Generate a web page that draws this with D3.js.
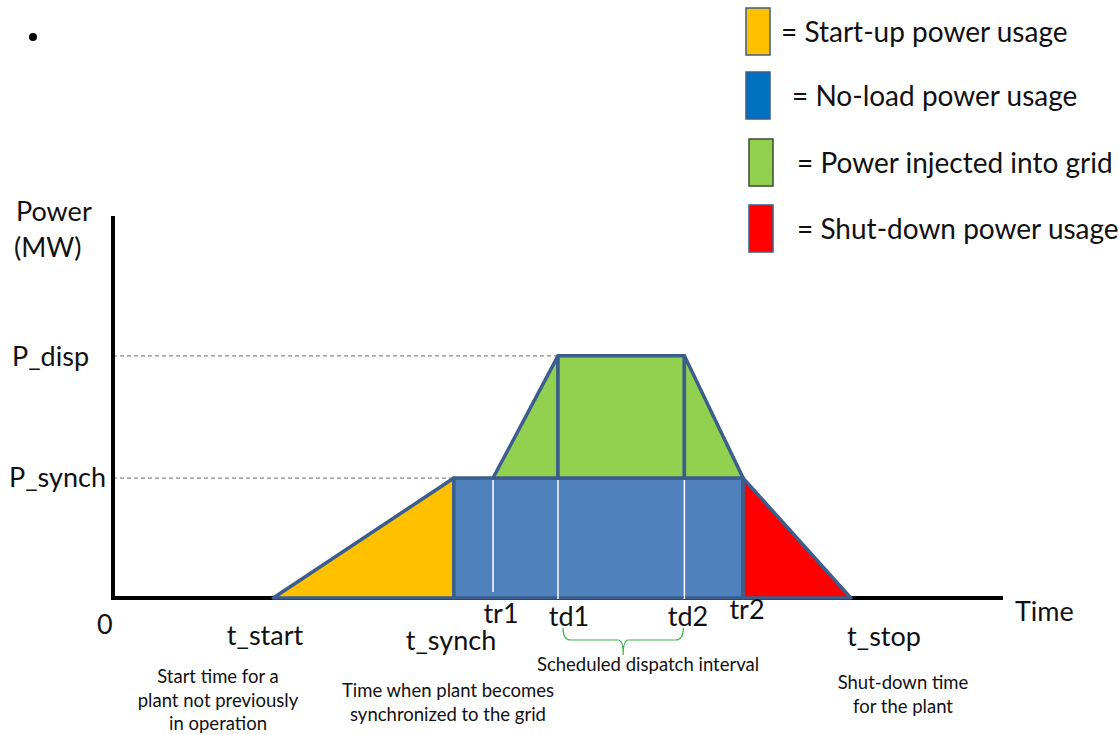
<!DOCTYPE html>
<html>
<head>
<meta charset="utf-8">
<script src="https://cdn.jsdelivr.net/npm/d3@7"></script>
<style>
  body { margin: 0; background: #fff; }
  svg { display: block; }
  text { font-family: Lato, "Open Sans", sans-serif; fill: #111; }
</style>
</head>
<body>
<div id="chart"></div>
<script>
// time points (relative units on the time axis, axis runs 0..100)
var timeNames  = ["t_start", "t_synch", "tr1", "td1", "td2", "tr2", "t_stop"];
var timeValues = [18.0, 38.3, 42.7, 50.0, 64.2, 70.8, 82.9];
// power levels (relative units, axis runs 0..100)
var powerNames  = ["P_synch", "P_disp"];
var powerValues = [31.4, 63.4];

// legend
var legendLabels = ["= Start-up power usage", "= No-load power usage",
                    "= Power injected into grid", "= Shut-down power usage"];
var legendColors = ["#FFC000", "#0070C0", "#92D050", "#FF0000"];

var t = {}; timeNames.forEach(function(n, i) { t[n] = timeValues[i]; });
var p = {}; powerNames.forEach(function(n, i) { p[n] = powerValues[i]; });

var W = 1119, H = 735;
var svg = d3.select("#chart").append("svg")
  .attr("width", W).attr("height", H);

var x = d3.scaleLinear().domain([0, 100]).range([113, 1003]);
var y = d3.scaleLinear().domain([0, 100]).range([598, 216]);

var stroke = "#3B5E8C";
var big = "27px", small = "18.5px";
var line = d3.line().x(function(d) { return x(d[0]); }).y(function(d) { return y(d[1]); });

// dashed guide lines
svg.append("line")
  .attr("x1", x(0)).attr("x2", x(t.td1))
  .attr("y1", y(p.P_disp)).attr("y2", y(p.P_disp))
  .attr("stroke", "#888").attr("stroke-width", 1.3).attr("stroke-dasharray", "4,3");
svg.append("line")
  .attr("x1", x(0)).attr("x2", x(t.t_synch))
  .attr("y1", y(p.P_synch)).attr("y2", y(p.P_synch))
  .attr("stroke", "#888").attr("stroke-width", 1.3).attr("stroke-dasharray", "4,3");

// axes
svg.append("line")
  .attr("x1", x(0)).attr("x2", x(0)).attr("y1", y(100)).attr("y2", y(0) + 2)
  .attr("stroke", "#000").attr("stroke-width", 4);
svg.append("line")
  .attr("x1", x(0) - 2).attr("x2", x(100)).attr("y1", y(0)).attr("y2", y(0))
  .attr("stroke", "#000").attr("stroke-width", 4);

// areas
var shapes = [
  { fill: "#FFC000", pts: [[t.t_start, 0], [t.t_synch, p.P_synch], [t.t_synch, 0]] },
  { fill: "#4F81BD", pts: [[t.t_synch, 0], [t.t_synch, p.P_synch], [t.tr2, p.P_synch], [t.tr2, 0]] },
  { fill: "#92D050", pts: [[t.tr1, p.P_synch], [t.td1, p.P_disp], [t.td1, p.P_synch]] },
  { fill: "#92D050", pts: [[t.td1, p.P_synch], [t.td1, p.P_disp], [t.td2, p.P_disp], [t.td2, p.P_synch]] },
  { fill: "#92D050", pts: [[t.td2, p.P_synch], [t.td2, p.P_disp], [t.tr2, p.P_synch]] },
  { fill: "#FF0000", pts: [[t.tr2, 0], [t.tr2, p.P_synch], [t.t_stop, 0]] }
];
svg.selectAll(".area")
  .data(shapes)
  .enter()
  .append("path")
  .attr("class", "area")
  .attr("d", function(d) { return line(d.pts) + "Z"; })
  .attr("fill", function(d) { return d.fill; })
  .attr("stroke", stroke)
  .attr("stroke-width", 3.5)
  .attr("stroke-linejoin", "round");

// white markers inside the no-load block
svg.selectAll(".marker")
  .data(["tr1", "td1", "td2"])
  .enter()
  .append("line")
  .attr("class", "marker")
  .attr("x1", function(d) { return x(t[d]); })
  .attr("x2", function(d) { return x(t[d]); })
  .attr("y1", y(p.P_synch) + 2)
  .attr("y2", function(d) { return d === "tr1" ? y(0) - 6 : y(0) + 1; })
  .attr("stroke", "#fff").attr("stroke-width", 1.5);

// y labels
svg.append("text").attr("x", 16).attr("y", 221).style("font-size", big).text("Power");
svg.append("text").attr("x", 14).attr("y", 257).style("font-size", big).text("(MW)");
svg.append("text").attr("x", 12).attr("y", y(p.P_disp) + 10).style("font-size", big).text("P_disp");
svg.append("text").attr("x", 9).attr("y", y(p.P_synch) + 9).style("font-size", big).text("P_synch");

svg.append("text").attr("x", 97).attr("y", 634).style("font-size", big).text("0");
svg.append("text").attr("x", 1015).attr("y", 621).style("font-size", big).text("Time");

// time labels
var timeLabelPos = {
  t_start: [265, 645], t_synch: [451, 650], tr1: [501, 623],
  td1: [569, 626], td2: [688, 626], tr2: [747, 619], t_stop: [884, 646]
};
svg.selectAll(".tlabel")
  .data(timeNames)
  .enter()
  .append("text")
  .attr("class", "tlabel")
  .attr("x", function(d) { return timeLabelPos[d][0]; })
  .attr("y", function(d) { return timeLabelPos[d][1]; })
  .attr("text-anchor", "middle")
  .style("font-size", big)
  .text(function(d) { return d; });

// curly brace for dispatch interval
var bx1 = x(t.td1) + 5, bx2 = x(t.td2) - 1, bm = (bx1 + bx2) / 2;
svg.append("path")
  .attr("d", "M" + bx1 + ",628 Q" + bx1 + ",640 " + (bx1 + 8) + ",640 L" + (bm - 5) + ",640 Q" + bm + ",640 " + bm + ",655"
    + " M" + bm + ",655 Q" + bm + ",640 " + (bm + 5) + ",640 L" + (bx2 - 8) + ",640 Q" + bx2 + ",640 " + bx2 + ",628")
  .attr("fill", "none").attr("stroke", "#3CB44B").attr("stroke-width", 1.2);

// descriptions
var notes = [
  { x: 218, y: 683, lines: ["Start time for a", "plant not previously", "in operation"] },
  { x: 448, y: 697, lines: ["Time when plant becomes", "synchronized to the grid"] },
  { x: 648, y: 671, lines: ["Scheduled dispatch interval"] },
  { x: 903, y: 689, lines: ["Shut-down time", "for the plant"] }
];
notes.forEach(function(n) {
  var tx = svg.append("text").attr("text-anchor", "middle").style("font-size", small);
  n.lines.forEach(function(l, i) {
    tx.append("tspan").attr("x", n.x).attr("y", n.y + i * 23.5).text(l);
  });
});

// bullet
svg.append("circle").attr("cx", 33).attr("cy", 37).attr("r", 4).attr("fill", "#000");

// legend
var legX = [746, 746, 749, 749], legTop = [8, 72, 139, 205], legTextX = [781, 792, 797, 797];
var leg = svg.selectAll(".leg")
  .data(legendLabels)
  .enter()
  .append("g")
  .attr("class", "leg");
leg.append("rect")
  .attr("x", function(d, i) { return legX[i]; })
  .attr("y", function(d, i) { return legTop[i]; })
  .attr("width", 24).attr("height", 47)
  .attr("fill", function(d, i) { return legendColors[i]; })
  .attr("stroke", function(d, i) { return i === 2 ? "#3E4A30" : "#3B5E8C"; })
  .attr("stroke-width", 1.5);
leg.append("text")
  .attr("x", function(d, i) { return legTextX[i]; })
  .attr("y", function(d, i) { return legTop[i] + 34; })
  .style("font-size", "28px")
  .text(function(d) { return d; });
</script>
</body>
</html>
